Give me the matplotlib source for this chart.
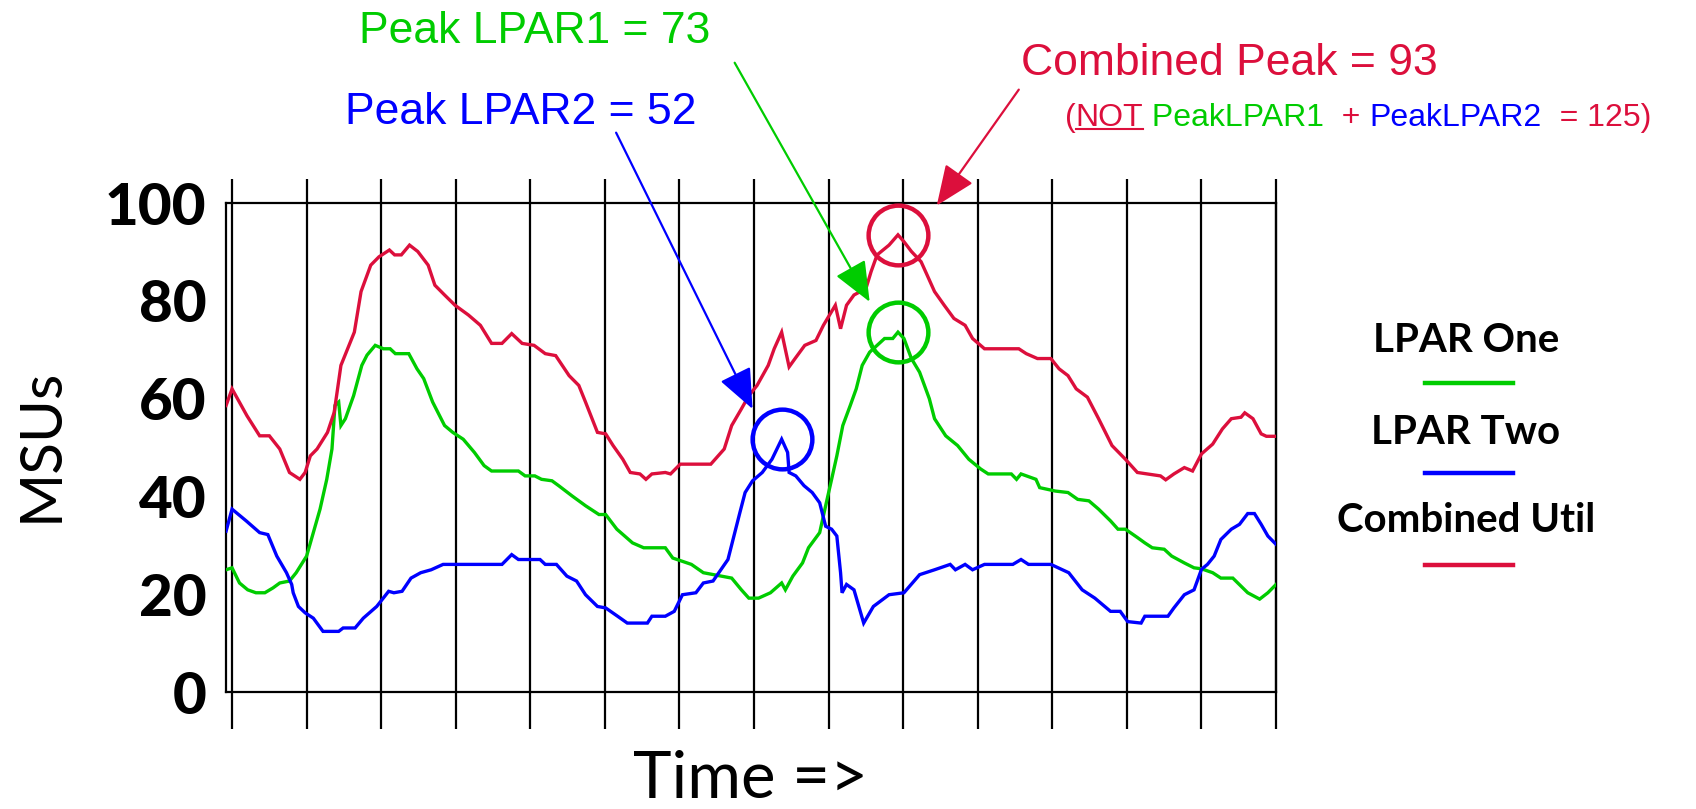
import matplotlib
matplotlib.use("Agg")
import matplotlib.pyplot as plt
from matplotlib.lines import Line2D
import numpy as np

# ---------------- data (x in grid-interval units of "Time") ----------------
lpar1_x = [-0.08, 0, 0.1, 0.21, 0.32, 0.44, 0.55, 0.64, 0.77, 0.86, 1.0, 1.09, 1.18, 1.27, 1.34,
           1.38, 1.43, 1.46, 1.52, 1.63, 1.74, 1.81, 1.92, 2.03, 2.12, 2.19, 2.37, 2.48, 2.57, 2.69,
           2.85, 2.96, 3.1, 3.25, 3.38, 3.48, 3.84, 3.93, 4.06, 4.15, 4.29, 4.38, 4.56, 4.74, 4.92,
           5.01, 5.16, 5.37, 5.52, 5.81, 5.91, 6.16, 6.32, 6.7, 6.83, 6.93, 7.06, 7.22, 7.37, 7.42,
           7.52, 7.65, 7.73, 7.88, 7.96, 8.04, 8.11, 8.19, 8.29, 8.37, 8.45, 8.55, 8.65, 8.75, 8.86,
           8.93, 9.01, 9.11, 9.22, 9.35, 9.42, 9.57, 9.73, 9.88, 10.04, 10.14, 10.45, 10.52, 10.58,
           10.78, 10.83, 11.04, 11.21, 11.34, 11.49, 11.62, 11.78, 11.88, 11.98, 12.14, 12.24, 12.34,
           12.5, 12.6, 12.77, 12.9, 13.0, 13.15, 13.26, 13.42, 13.62, 13.78, 13.89, 14.0]
lpar1_y = [25.0, 25.4, 22.3, 20.9, 20.3, 20.3, 21.3, 22.3, 22.7, 24.4, 27.8, 32.6, 37.4, 43.5, 49.7,
           58.6, 59.3, 54.5, 55.9, 60.6, 66.8, 68.9, 70.9, 70.2, 70.2, 69.2, 69.2, 66.1, 64.1, 59.3,
           54.5, 53.1, 51.7, 49.0, 46.3, 45.2, 45.2, 44.2, 44.2, 43.5, 43.2, 42.2, 40.1, 38.1, 36.3,
           36.3, 33.3, 30.5, 29.5, 29.5, 27.4, 26.1, 24.4, 23.3, 20.9, 19.2, 19.2, 20.3, 22.3, 20.9,
           23.7, 26.4, 29.5, 32.6, 38.1, 43.5, 48.3, 54.5, 58.6, 62.0, 66.8, 69.5, 70.9, 72.3, 72.3,
           73.6, 72.3, 68.2, 65.4, 60.0, 55.9, 52.4, 50.4, 47.6, 45.6, 44.6, 44.6, 43.5, 44.6,
           43.5, 41.8, 41.1, 40.8, 39.4, 39.1, 37.4, 35.0, 33.3, 33.3, 31.6, 30.5, 29.5,
           29.2, 27.8, 26.4, 25.4, 25.2, 24.4, 23.3, 23.3, 20.3, 19.0, 20.3, 22.0]

lpar2_x = [-0.08, 0, 0.19, 0.37, 0.48, 0.6, 0.73, 0.8, 0.82, 0.89, 0.98, 1.09, 1.22, 1.43, 1.49, 1.65,
           1.76, 1.94, 2.1, 2.17, 2.28, 2.4, 2.53, 2.67, 2.83, 3.62, 3.75, 3.84, 4.13, 4.2, 4.35, 4.49,
           4.62, 4.74, 4.9, 5.01, 5.17, 5.3, 5.57, 5.63, 5.81, 5.93, 6.04, 6.22, 6.32, 6.45, 6.65,
           6.73, 6.81, 6.88, 6.98, 7.11, 7.24, 7.37, 7.45, 7.47, 7.56, 7.67, 7.78, 7.88, 7.96, 8.04,
           8.11, 8.16, 8.18, 8.24, 8.34, 8.47, 8.6, 8.81, 9.01, 9.22, 9.42, 9.63, 9.7, 9.83, 9.93,
           10.09, 10.47, 10.58, 10.68, 10.98, 11.22, 11.4, 11.57, 11.78, 11.91, 12.01, 12.19, 12.24,
           12.55, 12.63, 12.77, 12.9, 13.0, 13.08, 13.17, 13.26, 13.4, 13.51, 13.62, 13.71, 13.8,
           13.89, 14.0]
lpar2_y = [32.9, 37.4, 35.0, 32.6, 32.2, 27.8, 24.4, 22.0, 20.3, 17.5, 16.2, 15.1, 12.4, 12.4, 13.1, 13.1,
           15.1, 17.5, 20.6, 20.3, 20.6, 23.3, 24.4, 25.0, 26.1, 26.1, 28.1, 27.1, 27.1, 26.1, 26.1, 23.7,
           22.7, 19.9, 17.5, 17.2, 15.5, 14.1, 14.1, 15.5, 15.5, 16.5, 19.9, 20.3, 22.3, 22.7, 27.1,
           31.9, 36.7, 40.8, 43.2, 44.9, 47.6, 51.7, 49.0, 44.9, 44.2, 42.2, 40.8, 38.7, 33.9, 33.3,
           31.9, 24.4, 20.3, 22.0, 20.9, 14.1, 17.5, 19.9, 20.3, 24.0, 25.0, 26.1, 25.0, 26.1, 25.0,
           26.1, 26.1, 27.1, 26.1, 26.1, 24.4, 20.9, 19.2, 16.5, 16.5, 14.4, 14.1, 15.5,
           15.5, 17.2, 19.9, 20.9, 25.1, 26.1, 27.8, 31.2, 33.3, 34.3, 36.5, 36.5, 34.3,
           31.9, 30.2]

comb_x = [-0.08, 0, 0.2, 0.37, 0.5, 0.64, 0.77, 0.91, 0.98, 1.05, 1.14, 1.28, 1.37, 1.46, 1.55, 1.64,
          1.73, 1.86, 1.97, 2.11, 2.18, 2.27, 2.38, 2.49, 2.63, 2.72, 2.85, 2.99, 3.17, 3.33, 3.48,
          3.62, 3.75, 3.89, 4.05, 4.2, 4.34, 4.52, 4.65, 4.74, 4.9, 5.01, 5.11, 5.24, 5.34, 5.47,
          5.55, 5.63, 5.81, 5.88, 6.01, 6.42, 6.6, 6.7, 6.83, 6.93, 7.04, 7.19, 7.27, 7.37, 7.47,
          7.55, 7.68, 7.83, 7.93, 8.09, 8.16, 8.24, 8.34, 8.5, 8.57, 8.65, 8.81, 8.93, 9.01, 9.11,
          9.24, 9.32, 9.42, 9.55, 9.68, 9.83, 9.93, 10.09, 10.55, 10.65, 10.8, 10.98, 11.09, 11.21,
          11.32, 11.47, 11.62, 11.8, 11.98, 12.14, 12.45, 12.52, 12.63, 12.77, 12.88, 13.0, 13.15,
          13.28, 13.4, 13.53, 13.58, 13.69, 13.8, 13.87, 14.0]
comb_y = [58.6, 62.0, 56.5, 52.4, 52.4, 49.7, 44.9, 43.5, 44.9, 48.3, 49.7, 53.1, 57.2, 66.8, 70.2, 73.6,
          81.9, 87.3, 89.0, 90.4, 89.4, 89.4, 91.4, 90.1, 87.3, 83.2, 81.2, 79.1, 77.1, 75.0, 71.3,
          71.3, 73.3, 71.3, 70.9, 69.2, 68.8, 64.7, 62.7, 59.3, 53.1, 52.8, 50.4, 47.6, 44.9, 44.6,
          43.5, 44.6, 44.9, 44.6, 46.6, 46.6, 49.7, 54.5, 57.9, 60.6, 62.7, 66.8, 70.2, 73.6, 66.5,
          68.2, 70.9, 71.9, 75.0, 79.1, 74.3, 79.1, 81.2, 82.5, 86.0, 89.4, 91.4, 93.5, 92.1, 90.1,
          88.0, 85.3, 81.9, 79.1, 76.4, 75.0, 72.3, 70.2, 70.2, 69.2, 68.2, 68.2, 66.1, 64.7,
          62.0, 60.3, 55.9, 50.4, 47.6, 44.9, 44.2, 43.4, 44.6, 45.9, 45.2, 48.7, 50.7,
          53.8, 55.9, 56.2, 57.1, 55.9, 52.8, 52.3, 52.3]

grid_x = list(range(0, 15))
y_ticks = [0, 20, 40, 60, 80, 100]
y_tick_labels = ["0", "20", "40", "60", "80", "100"]

series_names = ["LPAR One", "LPAR Two", "Combined Util"]
GREEN = "#00cc00"
BLUE = "#0000ff"
RED = "#dc0f3c"

# ---------------- figure ----------------
fig = plt.figure(figsize=(16.96, 8.09), dpi=100)
ax = fig.add_axes([0.1333, 0.1446, 0.6191, 0.6044])
ax.set_xlim(-0.08, 14.0)
ax.set_ylim(0, 100)

ax.vlines(grid_x, -7.5, 105, color="black", lw=1.6, clip_on=False, zorder=1)
for sp in ax.spines.values():
    sp.set_linewidth(1.6)
    sp.set_color("black")

ax.plot(lpar1_x, lpar1_y, color=GREEN, lw=2.4, zorder=3, solid_joinstyle="miter")
ax.plot(lpar2_x, lpar2_y, color=BLUE, lw=2.4, zorder=3, solid_joinstyle="miter")
ax.plot(comb_x, comb_y, color=RED, lw=2.4, zorder=3, solid_joinstyle="miter")

ax.set_xticks([])
ax.set_yticks(y_ticks)
ax.set_yticklabels(y_tick_labels, fontfamily="Lato", fontweight="black", fontsize=42)
ax.tick_params(axis="y", length=0, pad=14)

# peak circles
for xs, ys, col in [(comb_x, comb_y, RED), (lpar1_x, lpar1_y, GREEN), (lpar2_x, lpar2_y, BLUE)]:
    i = int(np.argmax(ys))
    ax.plot([xs[i]], [ys[i]], marker="o", ms=43, mfc="none", mec=col, mew=3.2,
            zorder=4, clip_on=False)

# arrows
def arrow(tip, start, col):
    ax.annotate("", xy=tip, xytext=start, xycoords="data", textcoords="data",
                annotation_clip=False,
                arrowprops=dict(arrowstyle="-|>,head_length=2.5,head_width=1.05",
                                mutation_scale=10, color=col, lw=1.6,
                                shrinkA=0, shrinkB=0))

arrow((6.98, 57.9), (5.15, 114.4), BLUE)
arrow((8.55, 79.8), (6.74, 128.7), GREEN)
arrow((9.45, 99.5), (10.55, 123.2), RED)

# annotation texts
afont = dict(fontfamily="Liberation Sans", fontsize=32)
fig.text(0.2117, 0.947, "Peak LPAR1 = 73", color=GREEN, va="baseline", ha="left", **afont)
fig.text(0.2034, 0.847, "Peak LPAR2 = 52", color=BLUE, va="baseline", ha="left", **afont)
fig.text(0.602, 0.907, "Combined Peak = 93", color=RED, va="baseline", ha="left", **afont)

sfont = dict(fontfamily="Liberation Sans", fontsize=23)
pieces = [("(", RED), ("NOT", RED), (" PeakLPAR1", GREEN), ("  + ", RED),
          ("PeakLPAR2", BLUE), ("  = 125)", RED)]
prev = fig.text(0.628, 0.844, pieces[0][0], color=pieces[0][1], va="baseline", ha="left", **sfont)
not_text = None
for s, c in pieces[1:]:
    prev = ax.annotate(s, xy=(1, 0), xycoords=prev, va="bottom", ha="left",
                       color=c, annotation_clip=False, **sfont)
    if s == "NOT":
        not_text = prev

# legend (text above line)
lfont = dict(fontfamily="Lato", fontweight="bold", fontsize=29)
leg_y_text = [0.5797, 0.466, 0.357]
leg_y_line = [0.5266, 0.4153, 0.3016]
for name, col, yt, yl in zip(series_names, [GREEN, BLUE, RED], leg_y_text, leg_y_line):
    fig.text(0.8644, yt, name, ha="center", va="center", color="black", **lfont)
    fig.add_artist(Line2D([0.8402, 0.8921], [yl, yl], color=col, lw=3.2, transform=fig.transFigure))

# axis labels
fig.text(0.024, 0.45, "MSUs", rotation=90, ha="center", va="center",
         fontfamily="Lato", fontsize=42, color="black")
fig.text(0.4425, 0.013, "Time =>", ha="center", va="baseline",
         fontfamily="Lato", fontsize=47, color="black")

# underline NOT
fig.canvas.draw()
bb = not_text.get_window_extent()
W, H = fig.bbox.width, fig.bbox.height
uy = (bb.y0 + 0.14 * bb.height) / H
fig.add_artist(Line2D([bb.x0 / W, bb.x1 / W], [uy, uy], color=RED, lw=1.5, transform=fig.transFigure))

fig.savefig("out.png", dpi=100, facecolor="white")
